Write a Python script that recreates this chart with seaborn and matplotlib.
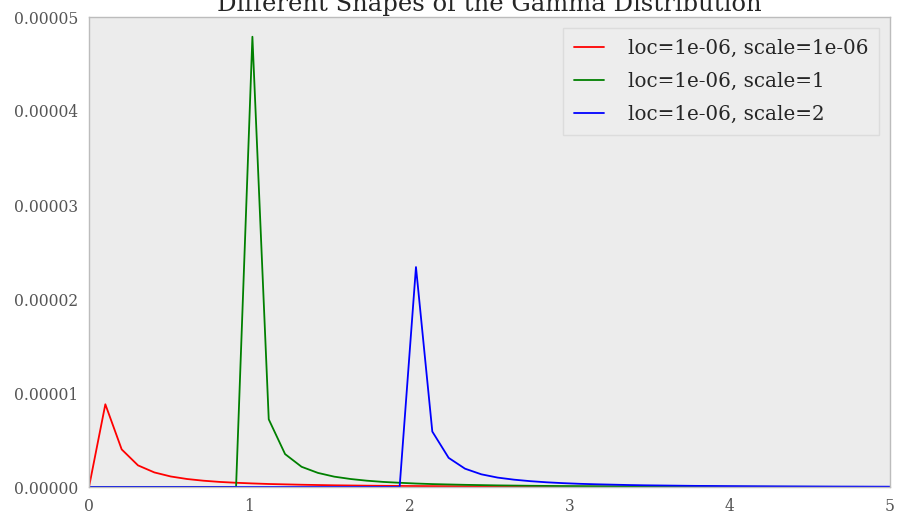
import numpy as np
import pandas as pd
import matplotlib
matplotlib.use('Agg')
import matplotlib.pyplot as plt
import seaborn as sns

# grid of x positions (50 points from 0 to 5)
x_vals = [0.000, 0.102, 0.204, 0.306, 0.408, 0.510, 0.612, 0.714, 0.816, 0.918,
          1.020, 1.122, 1.224, 1.327, 1.429, 1.531, 1.633, 1.735, 1.837, 1.939,
          2.041, 2.143, 2.245, 2.347, 2.449, 2.551, 2.653, 2.755, 2.857, 2.959,
          3.061, 3.163, 3.265, 3.367, 3.469, 3.571, 3.673, 3.776, 3.878, 3.980,
          4.082, 4.184, 4.286, 4.388, 4.490, 4.592, 4.694, 4.796, 4.898, 5.000]

# pdf values, in units of 1e-6
red_pdf = [0, 8.8, 4.0, 2.3, 1.55, 1.12, 0.85, 0.67, 0.54, 0.45,
           0.38, 0.32, 0.28, 0.24, 0.21, 0.18, 0.16, 0.14, 0.125, 0.11,
           0.10, 0.09, 0.08, 0.07, 0.065, 0.058, 0.052, 0.047, 0.042, 0.038,
           0.034, 0.031, 0.028, 0.025, 0.023, 0.021, 0.019, 0.017, 0.015, 0.014,
           0.013, 0.012, 0.011, 0.010, 0.009, 0.008, 0.007, 0.007, 0.006, 0.006]

green_pdf = [0, 0, 0, 0, 0, 0, 0, 0, 0, 0,
             47.9, 7.2, 3.5, 2.15, 1.5, 1.1, 0.85, 0.67, 0.54, 0.45,
             0.37, 0.31, 0.27, 0.23, 0.2, 0.17, 0.15, 0.13, 0.115, 0.10,
             0.09, 0.08, 0.07, 0.063, 0.056, 0.05, 0.045, 0.04, 0.036, 0.032,
             0.029, 0.026, 0.023, 0.021, 0.019, 0.017, 0.015, 0.014, 0.012, 0.011]

blue_pdf = [0, 0, 0, 0, 0, 0, 0, 0, 0, 0,
            0, 0, 0, 0, 0, 0, 0, 0, 0, 0,
            23.4, 5.9, 3.1, 1.95, 1.35, 1.0, 0.78, 0.62, 0.5, 0.41,
            0.34, 0.29, 0.25, 0.21, 0.18, 0.16, 0.14, 0.12, 0.11, 0.095,
            0.085, 0.075, 0.067, 0.06, 0.053, 0.047, 0.042, 0.038, 0.034, 0.031]

labels = ['loc=1e-06, scale=1e-06', 'loc=1e-06, scale=1', 'loc=1e-06, scale=2']
colors = ['#ff0000', '#008000', '#0000ff']

sns.set_theme(style='white', rc={
    'axes.facecolor': '#ececec',
    'axes.edgecolor': '#bcbcbc',
    'axes.linewidth': 1.0,
    'xtick.color': '#555555',
    'ytick.color': '#555555',
    'xtick.major.size': 0,
    'ytick.major.size': 0,
})
plt.rcParams['font.family'] = ['DejaVu Serif']

fig = plt.figure(figsize=(8.99, 5.18), dpi=100)
ax = fig.add_axes([89 / 899, 1 - 487 / 518, 801 / 899, 470 / 518])

for series, label, color in zip([red_pdf, green_pdf, blue_pdf], labels, colors):
    df = pd.DataFrame({'x': x_vals, 'pdf': np.array(series) * 1e-6})
    sns.lineplot(data=df, x='x', y='pdf', color=color, label=label, linewidth=1.3, ax=ax)

ax.set_xlim(0, 5)
ax.set_ylim(0, 0.00005)
ax.set_yticks([0, 0.00001, 0.00002, 0.00003, 0.00004, 0.00005])
ax.set_yticklabels(['0.00000', '0.00001', '0.00002', '0.00003', '0.00004', '0.00005'])
ax.tick_params(labelsize=11.2, pad=8)
ax.set_xlabel('')
ax.set_ylabel('')
# title sits partly above the figure edge, as in the original
ax.set_title('Different Shapes of the Gamma Distribution', fontsize=17.5, pad=4)

leg = ax.legend(loc='upper right', fontsize=14.3, frameon=True, fancybox=False,
                borderpad=0.55, handlelength=1.5, handletextpad=1.2, labelspacing=0.7,
                borderaxespad=0.55)
leg.get_frame().set_facecolor('#eeeeee')
leg.get_frame().set_edgecolor('#d8d8d8')

fig.savefig('out.png', dpi=100)
